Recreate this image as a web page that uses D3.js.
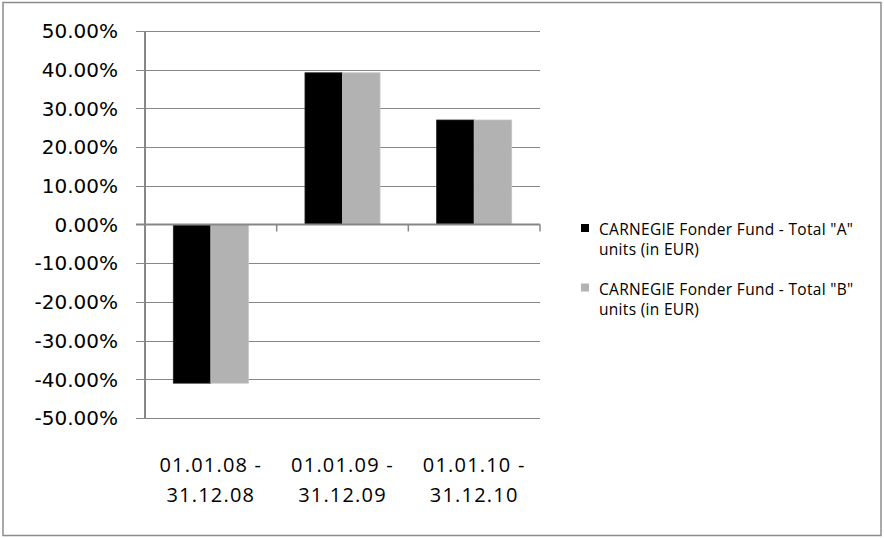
<!DOCTYPE html>
<html>
<head>
<meta charset="utf-8">
<script src="https://cdn.jsdelivr.net/npm/d3@7"></script>
<style>
    body { margin: 0; background: #fff; }
    svg { display: block; }
    text { font-family: "Open Sans", sans-serif; fill: #000; }
</style>
</head>
<body>
<svg width="884" height="538"></svg>
<script>
    // values
    var categories = ["01.01.08 - 31.12.08", "01.01.09 - 31.12.09", "01.01.10 - 31.12.10"];
    var categoryLines = [["01.01.08 -", "31.12.08"], ["01.01.09 -", "31.12.09"], ["01.01.10 -", "31.12.10"]];
    var seriesNames = ['Total "A"', 'Total "B"'];
    var legendLines = [
        ['CARNEGIE Fonder Fund - Total "A"', 'units (in EUR)'],
        ['CARNEGIE Fonder Fund - Total "B"', 'units (in EUR)']
    ];
    var seriesA = [-0.41, 0.392, 0.27];
    var seriesB = [-0.41, 0.392, 0.27];
    var yTickValues = [-0.5, -0.4, -0.3, -0.2, -0.1, 0, 0.1, 0.2, 0.3, 0.4, 0.5];
    var palette = ['#000000', '#b2b2b2'];

    var svg = d3.select("svg");
    var lineColor = "#878787";

    // outer frame
    svg.append("rect")
        .attr("x", 3).attr("y", 2.5)
        .attr("width", 878).attr("height", 533)
        .attr("fill", "none")
        .attr("stroke", "#8c8c8c")
        .attr("stroke-width", 1.5);

    var plot = {left: 145, right: 540, top: 31, bottom: 418};

    var y = d3.scaleLinear().domain([-0.5, 0.5]).range([plot.bottom, plot.top]);
    var x0 = d3.scaleBand().domain(categories).range([plot.left, plot.right])
        .paddingInner(0.43).paddingOuter(0.215);
    var x1 = d3.scaleBand().domain(seriesNames).range([0, x0.bandwidth()]);

    // gridlines
    svg.append("g")
        .selectAll("line")
        .data(yTickValues.filter(function (d) { return d !== 0; }))
        .enter().append("line")
        .attr("x1", plot.left - 9).attr("x2", plot.right)
        .attr("y1", function (d) { return Math.round(y(d)) + 0.5; })
        .attr("y2", function (d) { return Math.round(y(d)) + 0.5; })
        .attr("stroke", lineColor)
        .attr("stroke-width", 1.2);

    // y labels (plain hyphen for negatives, like the original)
    var fmt = d3.format(".2%");
    svg.append("g")
        .selectAll("text")
        .data(yTickValues)
        .enter().append("text")
        .attr("x", 118)
        .attr("y", function (d) { return y(d); })
        .attr("dy", "0.36em")
        .attr("text-anchor", "end")
        .style("font-family", "'DejaVu Sans', sans-serif")
        .style("font-size", "20px")
        .text(function (d) { return fmt(d).replace("\u2212", "-"); });

    // bars
    var rows = categories.map(function (c, i) {
        return {cat: c, values: [seriesA[i], seriesB[i]]};
    });
    svg.append("g")
        .selectAll("g")
        .data(rows)
        .enter().append("g")
        .attr("transform", function (d) { return "translate(" + x0(d.cat) + ",0)"; })
        .selectAll("rect")
        .data(function (d) {
            return d.values.map(function (v, j) { return {name: seriesNames[j], value: v, idx: j}; });
        })
        .enter().append("rect")
        .attr("x", function (d) { return x1(d.name); })
        .attr("width", x1.bandwidth())
        .attr("y", function (d) { return y(Math.max(0, d.value)); })
        .attr("height", function (d) { return Math.abs(y(d.value) - y(0)); })
        .attr("fill", function (d) { return palette[d.idx]; })
        .attr("stroke", function (d) { return d.idx === 1 ? "#c4c4c4" : "#222"; })
        .attr("stroke-width", 0.8);

    // y axis line
    svg.append("line")
        .attr("x1", plot.left).attr("x2", plot.left)
        .attr("y1", plot.top).attr("y2", plot.bottom)
        .attr("stroke", lineColor).attr("stroke-width", 2);

    // zero axis with category ticks
    svg.append("line")
        .attr("x1", plot.left - 9).attr("x2", plot.right)
        .attr("y1", y(0)).attr("y2", y(0))
        .attr("stroke", lineColor).attr("stroke-width", 2);

    var tickXs = categories.map(function (c) { return x0(c) - x0.step() * x0.paddingInner() / 2; })
        .concat([plot.right]).slice(1);
    svg.append("g")
        .selectAll("line")
        .data(tickXs)
        .enter().append("line")
        .attr("x1", function (d) { return d; }).attr("x2", function (d) { return d; })
        .attr("y1", y(0)).attr("y2", y(0) + 7)
        .attr("stroke", lineColor).attr("stroke-width", 1.5);

    // category labels
    var catText = svg.append("g")
        .selectAll("text")
        .data(categories)
        .enter().append("text")
        .attr("x", function (d) { return x0(d) + x0.bandwidth() / 2; })
        .attr("y", 472)
        .attr("text-anchor", "middle")
        .style("font-size", "20px")
        .style("letter-spacing", "1.2px");
    catText.selectAll("tspan")
        .data(function (d, i) { return categoryLines[i]; })
        .enter().append("tspan")
        .attr("x", function () { return d3.select(this.parentNode).attr("x"); })
        .attr("dy", function (d, i) { return i === 0 ? 0 : 30; })
        .text(function (d) { return d; });

    // legend
    var legend = svg.append("g")
        .selectAll("g")
        .data(legendLines)
        .enter().append("g")
        .attr("transform", function (d, i) { return "translate(581," + (224 + i * 59.5) + ")"; });
    legend.append("rect")
        .attr("width", 8).attr("height", 8)
        .attr("fill", function (d, i) { return palette[i]; });
    legend.append("text")
        .attr("x", 18).attr("y", 11)
        .style("font-size", "15.5px")
        .style("letter-spacing", "0.3px")
        .selectAll("tspan")
        .data(function (d) { return d; })
        .enter().append("tspan")
        .attr("x", 18)
        .attr("dy", function (d, i) { return i === 0 ? 0 : 20; })
        .text(function (d) { return d; });
</script>
</body>
</html>
